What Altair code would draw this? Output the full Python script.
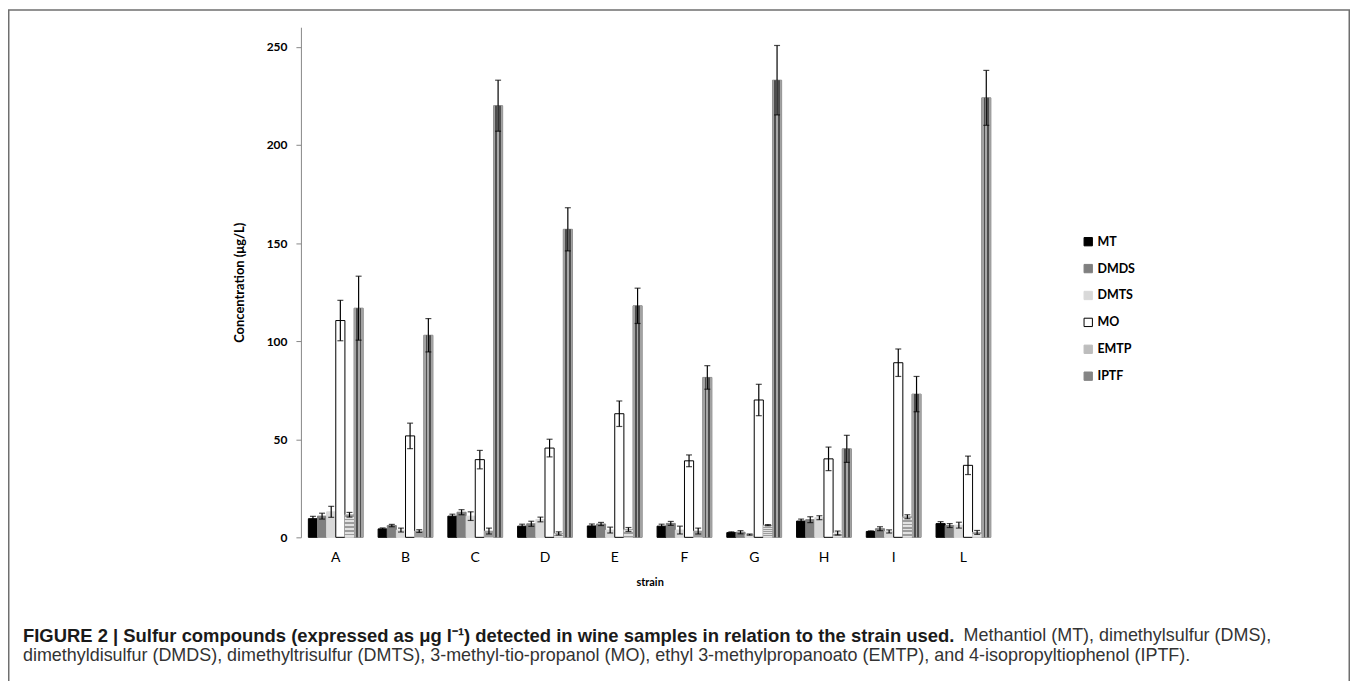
import altair as alt
import pandas as pd

strains = ["A", "B", "C", "D", "E", "F", "G", "H", "I", "L"]
compounds = ["MT", "DMDS", "DMTS", "MO", "EMTP", "IPTF"]

MT   = [9.5, 4.3, 10.8, 5.7, 5.8, 5.7, 2.4, 8.3, 3.0, 7.0]
DMDS = [10.8, 6.0, 12.8, 6.9, 6.8, 7.1, 2.6, 9.0, 4.4, 6.0]
DMTS = [13.0, 3.7, 10.8, 9.1, 3.7, 3.7, 1.4, 10.0, 3.0, 6.2]
MO   = [110.5, 51.7, 39.6, 45.5, 63.0, 39.0, 70.0, 40.0, 89.0, 36.7]
EMTP = [11.5, 3.2, 3.2, 2.0, 4.0, 3.2, 6.2, 2.2, 10.5, 2.5]
IPTF = [116.8, 103.0, 220.0, 157.0, 118.0, 81.5, 233.0, 45.1, 73.0, 224.0]

MT_err   = [1.2, 0.5, 1.0, 1.0, 1.0, 1.0, 0.4, 1.0, 0.3, 1.0]
DMDS_err = [1.5, 0.6, 1.3, 1.3, 0.8, 1.0, 0.8, 1.5, 1.0, 1.0]
DMTS_err = [2.8, 1.0, 2.2, 1.2, 1.5, 2.0, 0.3, 1.0, 0.8, 1.5]
MO_err   = [10.3, 6.5, 4.7, 4.5, 6.5, 3.0, 8.0, 6.0, 7.0, 4.7]
EMTP_err = [1.2, 0.7, 1.5, 0.8, 1.0, 1.5, 0.3, 1.0, 1.0, 1.0]
IPTF_err = [16.3, 8.5, 13.0, 11.0, 9.0, 6.0, 17.7, 6.9, 9.0, 14.0]

caption_bold = ("FIGURE 2 | Sulfur compounds (expressed as \u03bcg l\u207b\u00b9) detected in wine "
                "samples in relation to the strain used.")
caption_rest1 = "Methantiol (MT), dimethylsulfur (DMS),"
caption_line2 = ("dimethyldisulfur (DMDS), dimethyltrisulfur (DMTS), 3-methyl-tio-propanol (MO), "
                 "ethyl 3-methylpropanoato (EMTP), and 4-isopropyltiophenol (IPTF).")

series = {"MT": (MT, MT_err), "DMDS": (DMDS, DMDS_err), "DMTS": (DMTS, DMTS_err),
          "MO": (MO, MO_err), "EMTP": (EMTP, EMTP_err), "IPTF": (IPTF, IPTF_err)}
rows = []
for c in compounds:
    vals, errs = series[c]
    for s, v, e in zip(strains, vals, errs):
        rows.append({"strain": s, "compound": c, "value": v, "lo": v - e, "hi": v + e})
df = pd.DataFrame(rows)

W, H = 700, 512
PL, PT = 294, 18
TOTW, TOTH = 1347, 700

fills = ["#000000", "#7f7f7f", "#d9d9d9", "#ffffff", "#bdbdbd", "#858585"]
strokes = ["#000000", "#7f7f7f", "#d9d9d9", "#000000", "#bdbdbd", "#858585"]

xenc = alt.X("strain:N", sort=strains,
             scale=alt.Scale(paddingInner=0.214, paddingOuter=0.107),
             axis=alt.Axis(title="strain", domain=False, ticks=False, labelAngle=0,
                           labelFont="Lato", labelFontSize=14, labelColor="#000000",
                           labelPadding=13, titleFont="Lato", titleFontSize=11,
                           titleFontWeight="bold", titleColor="#000000", titlePadding=12))
yenc = alt.Y("value:Q", scale=alt.Scale(domain=[0, 260], nice=False),
             axis=alt.Axis(title="Concentration (\u03bcg/L)", values=[0, 50, 100, 150, 200, 250],
                           grid=False, domainColor="#888888", tickColor="#888888", tickSize=5,
                           labelFont="Lato", labelFontSize=12, labelFontWeight="bold",
                           labelColor="#000000", labelPadding=9,
                           titleFont="Lato", titleFontSize=13, titleFontWeight="bold",
                           titleColor="#000000", titlePadding=20))
xoff = alt.XOffset("compound:N", sort=compounds,
                   scale=alt.Scale(domain=compounds, paddingInner=0, paddingOuter=0))

legend_cfg = dict(title=None, orient="none", legendX=784, legendY=209,
                  symbolType="square", symbolSize=70, symbolStrokeWidth=1,
                  labelFont="Lato", labelFontSize=12.5, labelFontWeight="bold",
                  labelColor="#000000", rowPadding=14, labelOffset=3, padding=0)

base = alt.Chart(df)

bars = base.mark_bar(strokeWidth=1).encode(
    x=xenc, y=yenc, xOffset=xoff,
    fill=alt.Fill("compound:N", sort=compounds,
                  scale=alt.Scale(domain=compounds, range=fills),
                  legend=alt.Legend(**legend_cfg)),
    stroke=alt.Stroke("compound:N", sort=compounds,
                      scale=alt.Scale(domain=compounds, range=strokes),
                      legend=alt.Legend(**legend_cfg)),
)

hstripe_stops = []
n = 6
for i in range(n):
    a, b = i / n, (i + 0.5) / n
    hstripe_stops += [alt.GradientStop(color="#9c9c9c", offset=a),
                      alt.GradientStop(color="#9c9c9c", offset=b),
                      alt.GradientStop(color="#e2e2e2", offset=b),
                      alt.GradientStop(color="#e2e2e2", offset=(i + 1) / n)]
emtp = base.transform_filter(alt.datum.compound == "EMTP").mark_bar(
    fill=alt.Gradient(gradient="linear", stops=hstripe_stops, x1=0, x2=0, y1=0, y2=1)
).encode(x=alt.X("strain:N", sort=strains), y="value:Q", xOffset=xoff)

vcols = ["#a2a2a2", "#4e4e4e", "#a8a8a8", "#4e4e4e", "#a2a2a2"]
vstops = []
for i, c in enumerate(vcols):
    vstops += [alt.GradientStop(color=c, offset=i / len(vcols)),
               alt.GradientStop(color=c, offset=(i + 1) / len(vcols))]
iptf = base.transform_filter(alt.datum.compound == "IPTF").mark_bar(
    fill=alt.Gradient(gradient="linear", stops=vstops, x1=0, x2=1, y1=0, y2=0)
).encode(x=alt.X("strain:N", sort=strains), y="value:Q", xOffset=xoff)

err = base.mark_rule(color="#000000", strokeWidth=1.2).encode(
    x=alt.X("strain:N", sort=strains), y="lo:Q", y2="hi:Q", xOffset=xoff)
cap_hi = base.mark_tick(color="#000000", thickness=1.2, size=6).encode(
    x=alt.X("strain:N", sort=strains), y="hi:Q", xOffset=xoff)
cap_lo = base.mark_tick(color="#000000", thickness=1.2, size=6).encode(
    x=alt.X("strain:N", sort=strains), y="lo:Q", xOffset=xoff)

one = alt.Data(values=[{"k": 0}])
frame = alt.Chart(one).mark_rect(fillOpacity=0, stroke="#6f6f6f", strokeWidth=1.5).encode(
    x=alt.value(-PL + 0.75), x2=alt.value(TOTW - PL - 0.75),
    y=alt.value(-PT + 0.75), y2=alt.value(TOTH))

cap1 = alt.Chart(one).mark_text(align="left", baseline="middle", font="Liberation Sans",
                                fontSize=18.5, fontWeight="bold", color="#1a1a1a").encode(
    x=alt.value(23 - 8 - PL), y=alt.value(637 - 8 - PT), text=alt.value(caption_bold))
cap2 = alt.Chart(one).mark_text(align="right", baseline="middle", font="Liberation Sans",
                                fontSize=18, color="#333333").encode(
    x=alt.value(1276 - 8 - PL), y=alt.value(637 - 8 - PT), text=alt.value(caption_rest1))
cap3 = alt.Chart(one).mark_text(align="left", baseline="middle", font="Liberation Sans",
                                fontSize=18, color="#333333").encode(
    x=alt.value(23 - 8 - PL), y=alt.value(657 - 8 - PT), text=alt.value(caption_line2))

chart = alt.layer(frame, bars, emtp, iptf, err, cap_hi, cap_lo, cap1, cap2, cap3).properties(
    width=W, height=H,
    padding={"left": PL, "top": PT, "right": TOTW - PL - W, "bottom": TOTH - PT - H},
    autosize=alt.AutoSizeParams(type="none"),
    background="#ffffff",
).configure_view(strokeWidth=0)

chart.save("out.html", embed_options={"renderer": "svg", "actions": False})
